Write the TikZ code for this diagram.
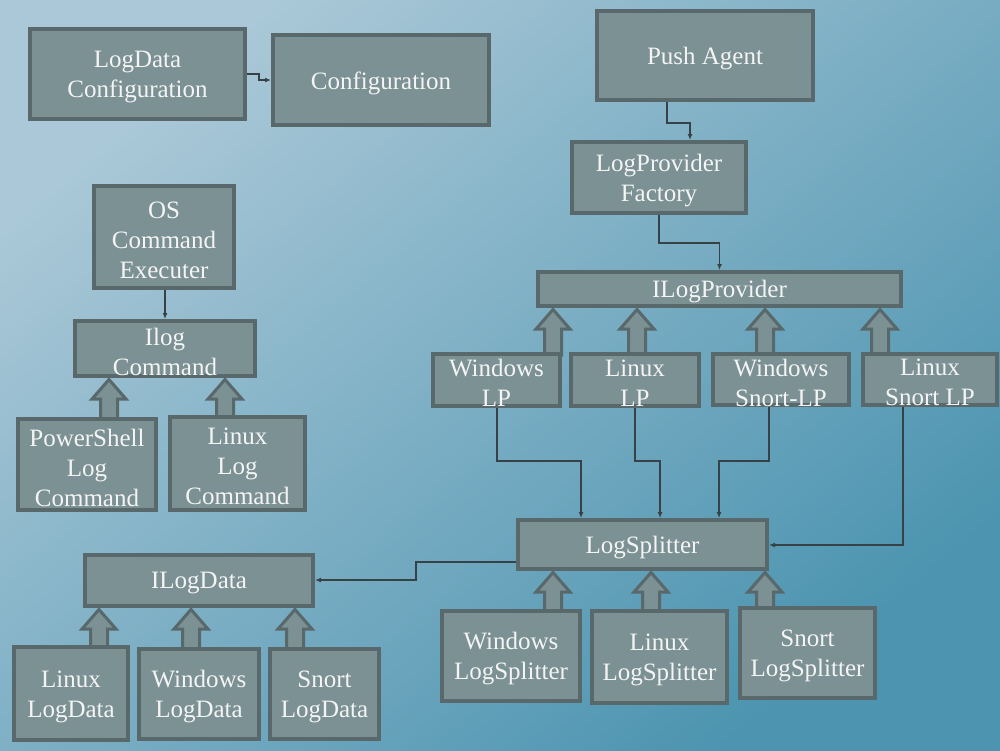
\documentclass[tikz,border=0pt]{standalone}
\usepackage{fontspec}
\setmainfont{Liberation Serif}
\usetikzlibrary{arrows.meta,calc}
\pgfdeclarelayer{bg}\pgfdeclarelayer{mid}
\pgfsetlayers{bg,mid,main}
\definecolor{boxfill}{RGB}{123,145,148}
\definecolor{boxline}{RGB}{88,104,107}
\definecolor{bgA}{RGB}{170,200,215}
\definecolor{bgB}{RGB}{76,148,176}
\definecolor{conncol}{RGB}{55,66,70}
\definecolor{txt}{RGB}{244,244,244}
\tikzset{
 box/.style={draw=boxline, fill=boxfill, line width=4pt, inner sep=0pt},
 boxtext/.style={text=txt, align=center, inner sep=0pt, font=\fontsize{25}{30}\selectfont},
 conn/.style={draw=conncol, line width=1.3pt, -{Latex[length=6pt,width=5pt]}},
 blockarr/.style={draw=boxline, fill=boxfill, line width=3pt, line join=miter},
}
\newcommand\bx[6]{\node[box, minimum width=#4pt, minimum height=#5pt] (#1) at (#2,#3) {};
 \node[boxtext] at ($(#1.center)+(0,3)$) {#6};}
\newcommand\inh[3]{\begin{pgfonlayer}{mid}\draw[blockarr] let \p1=(#2.north), \p2=(#3.south) in (#1pt-8.5pt,\y1-3pt) -- (#1pt-8.5pt,\y2-21pt) -- (#1pt-17pt,\y2-21pt) -- (#1pt,\y2-1.5pt) -- (#1pt+17pt,\y2-21pt) -- (#1pt+8.5pt,\y2-21pt) -- (#1pt+8.5pt,\y1-3pt) -- cycle;\end{pgfonlayer}}
\begin{document}
\begin{tikzpicture}[x=1pt,y=-1pt]
\useasboundingbox (0,0) rectangle (1000,750);
\begin{pgfonlayer}{bg}
\shade[top color=bgA, bottom color=bgB, shading angle=40] (0,0) rectangle (1000,750);
\end{pgfonlayer}
% boxes
\bx{ldc}{137.5}{74}{215}{90}{LogData\\Configuration}
\bx{conf}{381}{80}{216}{90}{Configuration}
\bx{push}{705}{55.5}{216}{89}{Push Agent}
\bx{lpf}{659}{177.5}{174}{71}{LogProvider\\Factory}
\bx{ilp}{719.5}{289}{363}{34}{ILogProvider}
\bx{wlp}{496.5}{380}{127}{52}{Windows\\LP}
\bx{llp}{635}{380}{128}{52}{Linux\\LP}
\bx{wslp}{781}{379.5}{136}{51}{Windows\\Snort-LP}
\bx{lslp}{930}{379.5}{134}{51}{Linux\\Snort LP}
\bx{ls}{642.5}{544.5}{249}{49}{LogSplitter}
\bx{wls}{511}{656}{138}{90}{Windows\\LogSplitter}
\bx{lls}{659.5}{657}{135}{92}{Linux\\LogSplitter}
\bx{sls}{807.5}{653}{135}{90}{Snort\\LogSplitter}
\bx{ild}{199}{580.5}{228}{51}{ILogData}
\bx{lld}{71}{693.5}{114}{93}{Linux\\LogData}
\bx{wld}{199}{694}{120}{90}{Windows\\LogData}
\bx{sld}{324.5}{694}{109}{90}{Snort\\LogData}
\bx{osce}{164}{237}{140}{102}{OS\\Command\\Executer}
\bx{ilc}{165}{348.5}{180}{55}{Ilog\\Command}
\bx{pslc}{87}{464.5}{138}{91}{PowerShell\\Log\\Command}
\bx{llc}{237.5}{463.5}{135}{93}{Linux\\Log\\Command}
% inheritance arrows
\inh{553}{wlp}{ilp}
\inh{637}{llp}{ilp}
\inh{765}{wslp}{ilp}
\inh{880}{lslp}{ilp}
\inh{109}{pslc}{ilc}
\inh{225}{llc}{ilc}
\inh{553}{wls}{ls}
\inh{651}{lls}{ls}
\inh{765}{sls}{ls}
\inh{99}{lld}{ild}
\inh{191}{wld}{ild}
\inh{295}{sld}{ild}
% connectors
\coordinate (c1) at ($(ldc.east)!0.5!(conf.west)$);
\draw[conn] (ldc.east) -| (c1) |- (conf.west);
\coordinate (p1) at (667,123); \coordinate (p2) at (690,123);
\draw[conn] (push.south -| p1) -- (p1) -- (p2) -- (p2 |- lpf.north);
\coordinate (q1) at (659,243);
\draw[conn] (lpf.south) -- (q1) -| (ilp.north);
\draw[conn] (osce.south -| ilc.north) -- (ilc.north);
\coordinate (r1) at (497,461); \coordinate (r2) at (581,461);
\draw[conn] (wlp.south -| r1) -- (r1) -- (r2) -- (r2 |- ls.north);
\coordinate (r3) at (635,461); \coordinate (r4) at (660,461);
\draw[conn] (llp.south -| r3) -- (r3) -- (r4) -- (r4 |- ls.north);
\coordinate (r5) at (769,461); \coordinate (r6) at (719,461);
\draw[conn] (wslp.south -| r5) -- (r5) -- (r6) -- (r6 |- ls.north);
\coordinate (s1) at (903,545);
\draw[conn] (lslp.south -| s1) -- (s1) -- (ls.east |- s1);
\coordinate (t1) at (416,562); \coordinate (t2) at (416,580);
\draw[conn] (ls.west |- t1) -- (t1) -- (t2) -- (ild.east |- t2);
\end{tikzpicture}
\end{document}
